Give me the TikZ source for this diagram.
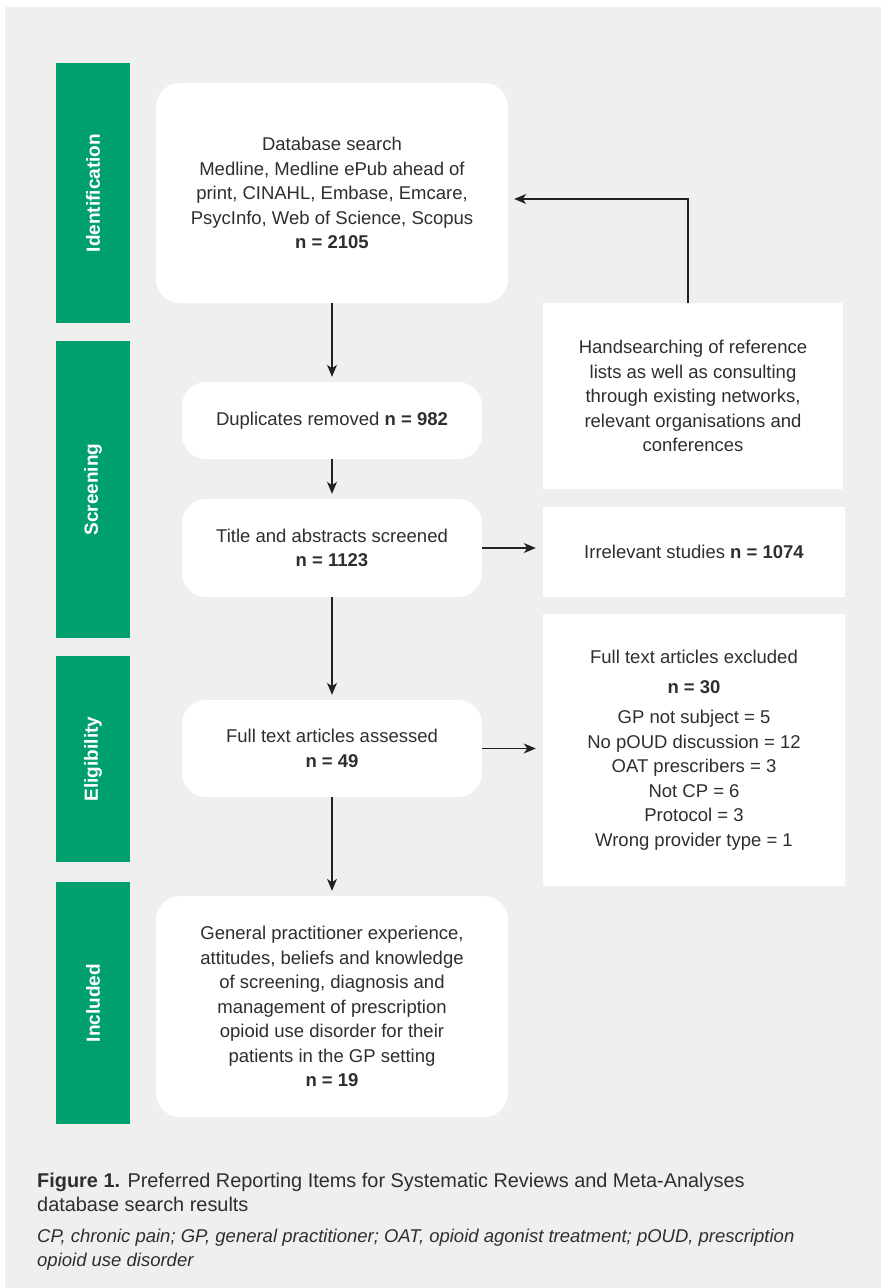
\documentclass[tikz,border=0pt]{standalone}
\usepackage{fontspec}
\setmainfont{Liberation Sans}
\usetikzlibrary{arrows.meta}
\definecolor{bggrey}{HTML}{EFEFED}
\definecolor{pgreen}{HTML}{00A06E}
\definecolor{txt}{HTML}{2E2E2E}
\definecolor{linec}{HTML}{222222}
\begin{document}
\begin{tikzpicture}[x=1pt,y=-1pt,
  boxfont/.style={font=\fontsize{18.5}{24.5}\selectfont},
  rbox/.style={fill=white, rounded corners=24pt, inner sep=0pt, align=center, text=txt, boxfont},
  sbox/.style={fill=white, inner sep=0pt, align=center, text=txt, boxfont},
  stage/.style={fill=pgreen, inner sep=0pt, rotate=90, minimum height=74pt, text=white, font=\bfseries\fontsize{19}{22}\selectfont},
  arr/.style={draw=linec, line width=1.2pt, -{Stealth[length=12pt,width=10pt,inset=3.5pt]}, shorten >=5pt},
  captxt/.style={anchor=base west, inner sep=0pt, text=txt, font=\fontsize{19.9}{23}\selectfont},
  capital/.style={anchor=base west, inner sep=0pt, text=txt, font=\itshape\fontsize{18.5}{23}\selectfont}
]
\fill[white] (0,0) rectangle (881,1288);
\useasboundingbox (0,0) rectangle (881,1288);
\fill[bggrey] (5,7) rectangle (881,1288);

% stage bars
\node[stage, minimum width=260pt] (s1) at (93,193) {Identification};
\node[stage, minimum width=297pt] (s2) at (93,489.5) {Screening};
\node[stage, minimum width=206pt] (s3) at (93,759) {Eligibility};
\node[stage, minimum width=242pt] (s4) at (93,1003) {Included};

% main boxes
\node[rbox, minimum width=352pt, minimum height=220pt] (db) at (332,193)
  {Database search\\Medline, Medline ePub ahead of\\print, CINAHL, Embase, Emcare,\\PsycInfo, Web of Science, Scopus\\\textbf{n = 2105}};
\node[rbox, minimum width=300pt, minimum height=77pt] (dup) at (332,420.5)
  {Duplicates removed \textbf{n = 982}};
\node[rbox, minimum width=300pt, minimum height=98pt] (title) at (332,548)
  {Title and abstracts screened\\\textbf{n = 1123}};
\node[rbox, minimum width=300pt, minimum height=97pt] (full) at (332,748.5)
  {Full text articles assessed\\\textbf{n = 49}};
\node[rbox, minimum width=352pt, minimum height=221pt] (incl) at (332,1006.5)
  {General practitioner experience,\\attitudes, beliefs and knowledge\\of screening, diagnosis and\\management of prescription\\opioid use disorder for their\\patients in the GP setting\\\textbf{n = 19}};

% side boxes
\node[sbox, minimum width=300pt, minimum height=186pt] (hand) at (693,396)
  {Handsearching of reference\\lists as well as consulting\\through existing networks,\\relevant organisations and\\conferences};
\node[sbox, minimum width=302pt, minimum height=90pt] (irr) at (694,552)
  {Irrelevant studies \textbf{n = 1074}};
\node[sbox, minimum width=302pt, minimum height=272pt] (excl) at (694,750)
  {Full text articles excluded\\[5.5pt]\textbf{n = 30}\\[5.5pt]GP not subject = 5\\No pOUD discussion = 12\\OAT prescribers = 3\\Not CP = 6\\Protocol = 3\\Wrong provider type = 1};

% connectors
\draw[arr] (db.south) -- (dup.north);
\draw[arr] (dup.south) -- (title.north);
\draw[arr] (title.south) -- (full.north);
\draw[arr] (full.south) -- (incl.north);
\draw[arr, shorten >=7pt] (title.east) -- (title.east -| irr.west);
\draw[arr, shorten >=7pt] (full.east) -- (full.east -| excl.west);
\draw[arr, shorten >=6pt] ([xshift=-5pt]hand.north) |- ([yshift=-6pt]db.east);

% caption
\node[captxt] (cap1) at (37,1187) {\textbf{Figure 1.} Preferred Reporting Items for Systematic Reviews and Meta-Analyses};
\node[captxt] (cap2) at (37,1211) {database search results};
\node[capital] (cap3) at (37,1242) {CP, chronic pain; GP, general practitioner; OAT, opioid agonist treatment; pOUD, prescription};
\node[capital] (cap4) at (37,1266) {opioid use disorder};
\end{tikzpicture}
\end{document}
